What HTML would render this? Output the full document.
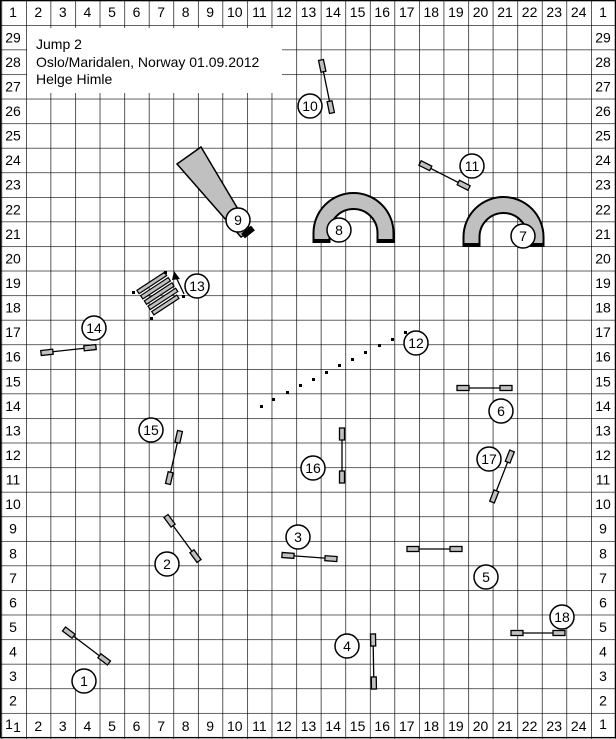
<!DOCTYPE html>
<html><head><meta charset="utf-8"><style>
html,body{margin:0;padding:0;background:#fff}
svg{display:block}
text{font-family:"Liberation Sans",sans-serif;font-size:14px;fill:#000}
</style></head><body>
<svg width="616" height="739" viewBox="0 0 616 739" xmlns="http://www.w3.org/2000/svg">
<defs>
<pattern id="g" patternUnits="userSpaceOnUse" x="26" y="25" width="24.565" height="24.57">
<path d="M0 0V24.57M0 0H24.565" stroke="#000" stroke-width="1.3" fill="none"/>
</pattern>
</defs>
<rect x="0" y="0" width="616" height="739" fill="#fff"/>
<rect x="0" y="0" width="616" height="739" fill="url(#g)"/>
<rect x="0.6" y="0.6" width="614.8" height="737" fill="none" stroke="#000" stroke-width="1.3"/>
<!-- title box -->
<rect x="27" y="28" width="255" height="65" fill="#fff"/>
<text x="36" y="49">Jump 2</text>
<text x="36" y="67">Oslo/Maridalen, Norway 01.09.2012</text>
<text x="36" y="84">Helge Himle</text>

<g text-anchor="middle">
<!-- top labels -->
<text x="13" y="17">1</text><text x="38.3" y="17">2</text><text x="62.8" y="17">3</text><text x="87.4" y="17">4</text><text x="112" y="17">5</text><text x="136.5" y="17">6</text><text x="161.1" y="17">7</text><text x="185.7" y="17">8</text><text x="210.2" y="17">9</text><text x="234.8" y="17">10</text><text x="259.4" y="17">11</text><text x="283.9" y="17">12</text><text x="308.5" y="17">13</text><text x="333.1" y="17">14</text><text x="357.6" y="17">15</text><text x="382.2" y="17">16</text><text x="406.8" y="17">17</text><text x="431.3" y="17">18</text><text x="455.9" y="17">19</text><text x="480.5" y="17">20</text><text x="505" y="17">21</text><text x="529.6" y="17">22</text><text x="554.2" y="17">23</text><text x="578.7" y="17">24</text><text x="603" y="17">1</text>
<!-- bottom labels -->
<text x="9" y="729">1</text><text x="17" y="732">1</text><text x="38.3" y="731">2</text><text x="62.8" y="731">3</text><text x="87.4" y="731">4</text><text x="112" y="731">5</text><text x="136.5" y="731">6</text><text x="161.1" y="731">7</text><text x="185.7" y="731">8</text><text x="210.2" y="731">9</text><text x="234.8" y="731">10</text><text x="259.4" y="731">11</text><text x="283.9" y="731">12</text><text x="308.5" y="731">13</text><text x="333.1" y="731">14</text><text x="357.6" y="731">15</text><text x="382.2" y="731">16</text><text x="406.8" y="731">17</text><text x="431.3" y="731">18</text><text x="455.9" y="731">19</text><text x="480.5" y="731">20</text><text x="505" y="731">21</text><text x="529.6" y="731">22</text><text x="554.2" y="731">23</text><text x="578.7" y="731">24</text><text x="603" y="729">1</text>
<!-- left row labels -->
<text x="13" y="42.3">29</text><text x="13" y="66.9">28</text><text x="13" y="91.4">27</text><text x="13" y="116">26</text><text x="13" y="140.6">25</text><text x="13" y="165.1">24</text><text x="13" y="189.7">23</text><text x="13" y="214.3">22</text><text x="13" y="238.8">21</text><text x="13" y="263.4">20</text><text x="13" y="288">19</text><text x="13" y="312.6">18</text><text x="13" y="337.1">17</text><text x="13" y="361.7">16</text><text x="13" y="386.3">15</text><text x="13" y="410.8">14</text><text x="13" y="435.4">13</text><text x="13" y="460">12</text><text x="13" y="484.6">11</text><text x="13" y="509.1">10</text><text x="13" y="533.7">9</text><text x="13" y="558.3">8</text><text x="13" y="582.8">7</text><text x="13" y="607.4">6</text><text x="13" y="632">5</text><text x="13" y="656.6">4</text><text x="13" y="681.1">3</text><text x="13" y="705.7">2</text>
<!-- right row labels -->
<text x="603" y="42.3">29</text><text x="603" y="66.9">28</text><text x="603" y="91.4">27</text><text x="603" y="116">26</text><text x="603" y="140.6">25</text><text x="603" y="165.1">24</text><text x="603" y="189.7">23</text><text x="603" y="214.3">22</text><text x="603" y="238.8">21</text><text x="603" y="263.4">20</text><text x="603" y="288">19</text><text x="603" y="312.6">18</text><text x="603" y="337.1">17</text><text x="603" y="361.7">16</text><text x="603" y="386.3">15</text><text x="603" y="410.8">14</text><text x="603" y="435.4">13</text><text x="603" y="460">12</text><text x="603" y="484.6">11</text><text x="603" y="509.1">10</text><text x="603" y="533.7">9</text><text x="603" y="558.3">8</text><text x="603" y="582.8">7</text><text x="603" y="607.4">6</text><text x="603" y="632">5</text><text x="603" y="656.6">4</text><text x="603" y="681.1">3</text><text x="603" y="705.7">2</text>
</g>

<!-- jumps -->
<g stroke="#000" stroke-width="1.3" fill="#c0c0c0">
<g transform="translate(64,629) rotate(37.1)"><line x1="0" y1="0" x2="56.4" y2="0"/><rect x="0" y="-2.5" width="12" height="5"/><rect x="44.4" y="-2.5" width="12" height="5"/></g>
<g transform="translate(166,516) rotate(53.7)"><line x1="0" y1="0" x2="55.8" y2="0"/><rect x="0" y="-2.5" width="12" height="5"/><rect x="43.8" y="-2.5" width="12" height="5"/></g>
<g transform="translate(282,555) rotate(4.2)"><line x1="0" y1="0" x2="55.1" y2="0"/><rect x="0" y="-2.5" width="12" height="5"/><rect x="43.1" y="-2.5" width="12" height="5"/></g>
<g transform="translate(373,634) rotate(89)"><line x1="0" y1="0" x2="55" y2="0"/><rect x="0" y="-2.5" width="12" height="5"/><rect x="43" y="-2.5" width="12" height="5"/></g>
<g transform="translate(407,549)"><line x1="0" y1="0" x2="55" y2="0"/><rect x="0" y="-2.5" width="12" height="5"/><rect x="43" y="-2.5" width="12" height="5"/></g>
<g transform="translate(457,388)"><line x1="0" y1="0" x2="55" y2="0"/><rect x="0" y="-2.5" width="12" height="5"/><rect x="43" y="-2.5" width="12" height="5"/></g>
<g transform="translate(321,60) rotate(78.3)"><line x1="0" y1="0" x2="54.1" y2="0"/><rect x="0" y="-2.5" width="12" height="5"/><rect x="42.1" y="-2.5" width="12" height="5"/></g>
<g transform="translate(420,163) rotate(27)"><line x1="0" y1="0" x2="55" y2="0"/><rect x="0" y="-2.5" width="12" height="5"/><rect x="43" y="-2.5" width="12" height="5"/></g>
<g transform="translate(41,353) rotate(-6.2)"><line x1="0" y1="0" x2="55.3" y2="0"/><rect x="0" y="-2.5" width="12" height="5"/><rect x="43.3" y="-2.5" width="12" height="5"/></g>
<g transform="translate(180,431) rotate(102.8)"><line x1="0" y1="0" x2="54.3" y2="0"/><rect x="0" y="-2.5" width="12" height="5"/><rect x="42.3" y="-2.5" width="12" height="5"/></g>
<g transform="translate(342,428) rotate(90)"><line x1="0" y1="0" x2="55" y2="0"/><rect x="0" y="-2.5" width="12" height="5"/><rect x="43" y="-2.5" width="12" height="5"/></g>
<g transform="translate(512,451) rotate(111.4)"><line x1="0" y1="0" x2="54.8" y2="0"/><rect x="0" y="-2.5" width="12" height="5"/><rect x="42.8" y="-2.5" width="12" height="5"/></g>
<g transform="translate(511,633)"><line x1="0" y1="0" x2="54" y2="0"/><rect x="0" y="-2.5" width="12" height="5"/><rect x="42" y="-2.5" width="12" height="5"/></g>
</g>

<!-- weave 13 -->
<g stroke="#000" stroke-width="1.2" fill="#c0c0c0">
<rect x="0" y="-2" width="33" height="4" transform="translate(138,292) rotate(-33.2)"/>
<rect x="0" y="-2" width="33" height="4" transform="translate(141.7,297.3) rotate(-33.2)"/>
<rect x="0" y="-2" width="33" height="4" transform="translate(145.4,302.6) rotate(-33.2)"/>
<rect x="0" y="-2" width="33" height="4" transform="translate(149.1,307.9) rotate(-33.2)"/>
<rect x="0" y="-2" width="30" height="4" transform="translate(152.8,313.2) rotate(-33.2)"/>
</g>
<g fill="#000">
<rect x="132" y="291" width="3" height="3"/><rect x="164" y="271" width="3" height="3"/><rect x="150" y="317" width="3" height="3"/><rect x="182" y="295" width="3" height="3"/>
</g>
<line x1="184" y1="294" x2="176" y2="277" stroke="#000" stroke-width="1.3"/>
<polygon points="174,271 180,279 172,280" fill="#000"/>

<!-- dotted 12 -->
<g fill="#000">
<rect x="260" y="405" width="3" height="3"/><rect x="272" y="398" width="3" height="3"/><rect x="286" y="391" width="3" height="3"/><rect x="299" y="384" width="3" height="3"/><rect x="312" y="378" width="3" height="3"/><rect x="325" y="371" width="3" height="3"/><rect x="338" y="364" width="3" height="3"/><rect x="351" y="358" width="3" height="3"/><rect x="364" y="351" width="3" height="3"/><rect x="378" y="344" width="3" height="3"/><rect x="391" y="338" width="3" height="3"/><rect x="404" y="331" width="3" height="3"/>
</g>

<!-- chute 9 -->
<polygon points="177,164 201,147 251,231 241,237" fill="#c0c0c0" stroke="#000" stroke-width="1.5"/>
<line x1="243" y1="236" x2="253" y2="228" stroke="#000" stroke-width="6"/>

<!-- tunnels -->
<path d="M313.5,242V233A40,40 0 0 1 393.5,233V242H377.5V233A24,24 0 0 0 329.5,233V242Z" fill="#c0c0c0" stroke="#000" stroke-width="2"/>
<rect x="313.5" y="239" width="16" height="4" fill="#000"/><rect x="377.5" y="239" width="16" height="4" fill="#000"/>
<path d="M463.5,246V237A40,40 0 0 1 543.5,237V246H527.5V237A24,24 0 0 0 479.5,237V246Z" fill="#c0c0c0" stroke="#000" stroke-width="2"/>
<rect x="463.5" y="243" width="16" height="4" fill="#000"/><rect x="527.5" y="243" width="16" height="4" fill="#000"/>

<!-- number circles -->
<g fill="#fff" stroke="#000" stroke-width="1.5">
<circle cx="84" cy="681" r="12"/><circle cx="167" cy="564" r="12"/><circle cx="298" cy="537" r="12"/><circle cx="347" cy="646" r="12"/><circle cx="486" cy="577" r="12"/><circle cx="501" cy="411" r="12"/><circle cx="523" cy="236" r="12"/><circle cx="339" cy="230" r="12"/><circle cx="238" cy="220" r="12"/><circle cx="310" cy="106" r="12"/><circle cx="472" cy="166" r="12"/><circle cx="416" cy="343" r="12"/><circle cx="197" cy="286" r="12"/><circle cx="94" cy="328" r="12"/><circle cx="151" cy="430" r="12"/><circle cx="313" cy="468" r="12"/><circle cx="489" cy="459" r="12"/><circle cx="562" cy="617" r="12"/>
</g>
<g text-anchor="middle">
<text x="84" y="686">1</text><text x="167" y="569">2</text><text x="298" y="542">3</text><text x="347" y="651">4</text><text x="486" y="582">5</text><text x="501" y="416">6</text><text x="523" y="241">7</text><text x="339" y="235">8</text><text x="238" y="225">9</text><text x="310" y="111">10</text><text x="472" y="171">11</text><text x="416" y="348">12</text><text x="197" y="291">13</text><text x="94" y="333">14</text><text x="151" y="435">15</text><text x="313" y="473">16</text><text x="489" y="464">17</text><text x="562" y="622">18</text>
</g>
</svg>
</body></html>
